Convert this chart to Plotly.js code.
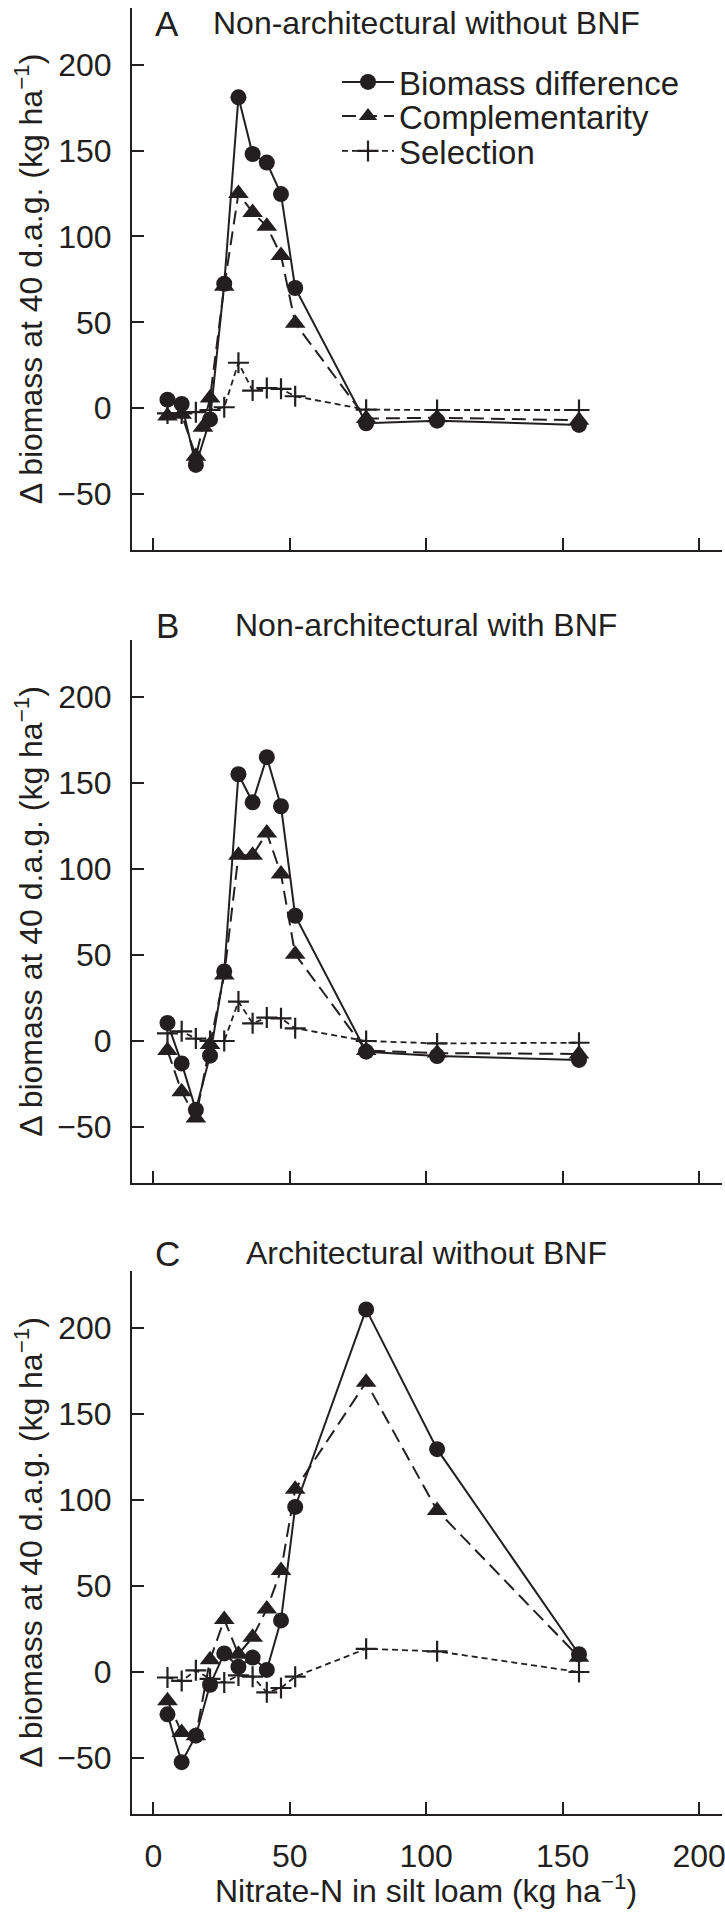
<!DOCTYPE html>
<html>
<head>
<meta charset="utf-8">
<script src="https://cdn.plot.ly/plotly-3.0.1.min.js"></script>
<style>
  body { margin: 0; background: #fff; }
  #myGraph { width: 725px; height: 1912px; }
</style>
</head>
<body>
<div id="myGraph"></div>
<script>
// nitrate-N levels (kg/ha) shared by the three panels
const nitrate = [5.2, 10.4, 15.6, 20.8, 26, 31.2, 36.4, 41.6, 46.8, 52, 78, 104, 156];
// panel A has one extra complementarity point between 15.6 and 20.8
const nitrateCompA = [5.2, 10.4, 15.6, 18.2, 20.8, 26, 31.2, 36.4, 41.6, 46.8, 52, 78, 104, 156];

// A: non-architectural without BNF
const biomassA = [5, 2.5, -33, -6.5, 72.5, 181, 148, 143, 124.7, 70, -8.7, -7.2, -9.7];
const complementarityA = [-4.5, -3.5, -28, -11, 6, 71, 125, 114, 106, 89, 49.5, -6, -5.5, -7];
const selectionA = [-3, -3, -2.3, -1, 0.6, 26.5, 10.3, 11.8, 11.3, 7, -0.8, -1, -1];

// B: non-architectural with BNF
const biomassB = [10.5, -13, -40, -8.5, 40.4, 155, 138.7, 164.9, 136.4, 72.8, -6.2, -8.7, -11];
const complementarityB = [-5.5, -29.5, -44.7, -2, 38.4, 107.9, 107.9, 120.9, 97, 50.4, -5.5, -7, -7.5];
const selectionB = [4.4, 5.6, 1.4, 0, 0, 22.9, 10.3, 13.6, 13.2, 7.4, 0, -1.4, -1];

// C: architectural without BNF
const biomassC = [-24.6, -52.4, -37, -7.4, 10.8, 3, 8.4, 1.2, 30, 95.9, 210.7, 129.5, 10.3];
const complementarityC = [-16.7, -35.2, -37.1, 7.1, 30.5, 10.3, 20.2, 36.6, 59, 106.2, 168.4, 93.9, 8.6];
const selectionC = [-3.2, -5.2, 1, -4, -6.1, -2, -2.7, -11.8, -9.3, -2.7, 13.5, 12, 0];

const panelLetters = ["A", "B", "C"];
const panelTitles = ["Non-architectural without BNF", "Non-architectural with BNF", "Architectural without BNF"];
const seriesNames = ["Biomass difference", "Complementarity", "Selection"];
const xTicks = [0, 50, 100, 150, 200];
const yTicks = [-50, 0, 50, 100, 150, 200];

const ink = "#231f20";
const fontName = "Liberation Sans, Arial, sans-serif";

//build the three traces of one panel
function panelTraces(n, xComp, biomass, comp, sel) {
  let xa = n == 1 ? "x" : "x" + n;
  let ya = n == 1 ? "y" : "y" + n;
  let show = n == 1;
  return [
    {
      x: nitrate, y: biomass, xaxis: xa, yaxis: ya,
      type: "scatter", mode: "lines+markers", name: seriesNames[0],
      line: { color: ink, width: 2 },
      marker: { symbol: "circle", size: 16, color: ink },
      showlegend: show, legend: "legend",
    },
    {
      x: xComp, y: comp, xaxis: xa, yaxis: ya,
      type: "scatter", mode: "lines+markers", name: seriesNames[1],
      line: { color: ink, width: 2, dash: "14px,7px" },
      marker: { symbol: "triangle-up", size: 18, color: ink },
      showlegend: show, legend: "legend2",
    },
    {
      x: nitrate, y: sel, xaxis: xa, yaxis: ya,
      type: "scatter", mode: "lines+markers", name: seriesNames[2],
      line: { color: ink, width: 1.8, dash: "6px,4px" },
      marker: { symbol: "cross-thin", size: 15, color: ink, line: { color: ink, width: 2.2 } },
      showlegend: show, legend: "legend3",
    },
  ];
}

let dataArray = []
  .concat(panelTraces(1, nitrateCompA, biomassA, complementarityA, selectionA))
  .concat(panelTraces(2, nitrate, biomassB, complementarityB, selectionB))
  .concat(panelTraces(3, nitrate, biomassC, complementarityC, selectionC));

// pixel layout of the figure: plot area runs from 132 to 722 across, 8 to 1814 down
const plotTop = 8, plotBottom = 1814;
function py(pix) { return (plotBottom - pix) / (plotBottom - plotTop); }
function px(pix) { return (pix - 132) / 590; }

const yTitle = "\u0394 biomass at 40 d.a.g. (kg ha<sup>\u22121</sup>)";
const xTitle = "Nitrate-N in silt loam (kg ha<sup>\u22121</sup>)";

function xAxis(anchor, labels) {
  return {
    anchor: anchor, domain: [0, 1], range: [-7.8, 208.4],
    tickvals: xTicks, ticks: "inside", ticklen: 12, tickwidth: 2, tickcolor: ink,
    showticklabels: labels, ticklabelstandoff: 13, ticklabeloverflow: "allow",
    showline: true, linecolor: ink, linewidth: 2,
    showgrid: false, zeroline: false,
    tickfont: { size: 32, color: ink, family: fontName },
    title: { text: "" },
  };
}
function yAxis(anchor, domain) {
  return {
    anchor: anchor, domain: domain, range: [-82.5, 233],
    tickvals: yTicks, ticks: "inside", ticklen: 12, tickwidth: 2, tickcolor: ink,
    ticklabelstandoff: 12,
    showline: true, linecolor: ink, linewidth: 2,
    showgrid: false, zeroline: false,
    tickfont: { size: 32, color: ink, family: fontName },
    title: { text: yTitle, font: { size: 32, color: ink }, standoff: 5 },
  };
}

let annotations = [];
const titleRows = [23, 625, 1253];
for (let i = 0; i < 3; i++) {
  annotations.push({
    text: panelLetters[i], xref: "paper", yref: "paper", x: px(167), y: py(titleRows[i]),
    xanchor: "center", yanchor: "middle", showarrow: false, font: { size: 35, color: ink },
  });
  annotations.push({
    text: panelTitles[i], xref: "paper", yref: "paper", x: px(426), y: py(titleRows[i]),
    xanchor: "center", yanchor: "middle", showarrow: false, font: { size: 32, color: ink },
  });
}
// x-axis title under the bottom panel
annotations.push({
  text: xTitle, xref: "paper", yref: "paper", x: px(426), y: py(1889),
  xanchor: "center", yanchor: "middle", showarrow: false, font: { size: 32, color: ink },
});

function legendBox(rowY) {
  return {
    x: px(337), y: py(rowY), xanchor: "left", yanchor: "middle",
    bgcolor: "rgba(0,0,0,0)", borderwidth: 0, itemwidth: 52,
    font: { size: 33, color: ink, family: fontName },
  };
}

var layout = {
  width: 725, height: 1912,
  margin: { l: 132, r: 3, t: plotTop, b: 1912 - plotBottom },
  paper_bgcolor: "#fff", plot_bgcolor: "#fff",
  font: { family: fontName, color: ink },
  xaxis: xAxis("y", false),
  xaxis2: xAxis("y2", false),
  xaxis3: xAxis("y3", true),
  yaxis: yAxis("x", [py(550), 1]),
  yaxis2: yAxis("x2", [py(1183), py(640)]),
  yaxis3: yAxis("x3", [0, py(1271)]),
  legend: legendBox(82),
  legend2: legendBox(116),
  legend3: legendBox(151),
  annotations: annotations,
};

Plotly.newPlot("myGraph", dataArray, layout, { staticPlot: true });
</script>
</body>
</html>
